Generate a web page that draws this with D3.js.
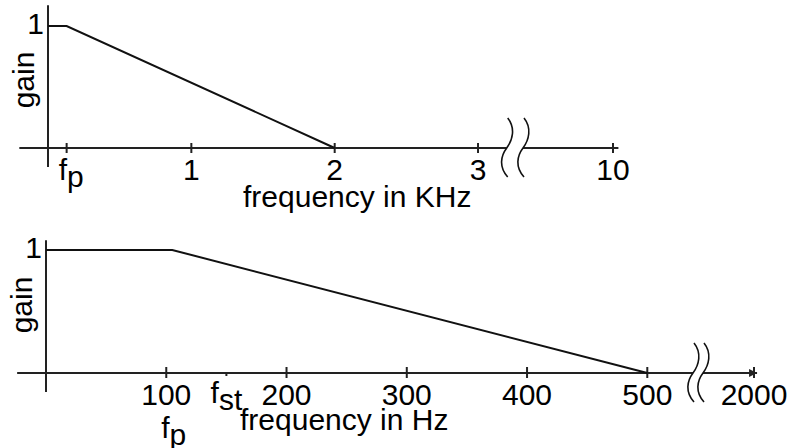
<!DOCTYPE html>
<html>
<head>
<meta charset="utf-8">
<script src="https://cdn.jsdelivr.net/npm/d3@7"></script>
<style>
  body { margin: 0; background: #fff; }
  text { font-family: "Liberation Sans", Arial, sans-serif; fill: #000; }
</style>
</head>
<body>
<div id="chart"></div>
<script>
// top panel, frequency in kHz
var topTicks = [0.13, 1, 2, 3, 10];
var topTickLabels = ["f_p", "1", "2", "3", "10"];
var topFreq = [0, 0.13, 2];
var topGain = [1, 1, 0];

// bottom panel, frequency in Hz
var bottomTicks = [100, 150, 200, 300, 400, 500, 2000];
var bottomTickLabels = ["100", "f_st", "200", "300", "400", "500", "2000"];
var bottomLowerTicks = [100];
var bottomLowerLabels = ["f_p"];
var bottomFreq = [0, 105, 500];
var bottomGain = [1, 1, 0];

var W = 790, H = 448;
var svg = d3.select("#chart").append("svg").attr("width", W).attr("height", H);
svg.append("rect").attr("width", W).attr("height", H).attr("fill", "#fff");

// writes "f_p" as f with subscript p
function setLabel(sel, s) {
  var parts = s.split("_");
  sel.text(parts[0]);
  if (parts.length > 1) sel.append("tspan").attr("dy", 7).text(parts[1]);
}

function breakMark(g, cx, cy) {
  g.append("path")
    .attr("d", "M" + (cx + 1) + "," + (cy - 30) +
      " C" + (cx + 9) + "," + (cy - 20) + " " + (cx + 6) + "," + (cy - 8) + " " + cx + "," + cy +
      " C" + (cx - 6) + "," + (cy + 8) + " " + (cx - 8) + "," + (cy + 19) + " " + (cx + 1) + "," + (cy + 29))
    .attr("fill", "none").attr("stroke", "#111").attr("stroke-width", 1.6);
}

function drawPanel(opt) {
  var g = svg.append("g");
  var x = opt.x, y = opt.y;
  var x0 = x(0), y0 = y(0);

  // y axis
  g.append("line").attr("x1", x0).attr("x2", x0)
    .attr("y1", y(opt.yTop)).attr("y2", y(opt.yBottom))
    .attr("stroke", "#222").attr("stroke-width", 2);

  // x axis in two pieces around the break
  g.append("line").attr("x1", x(opt.xStart)).attr("x2", x(opt.breakA))
    .attr("y1", y0).attr("y2", y0).attr("stroke", "#222").attr("stroke-width", 2);
  g.append("line").attr("x1", x(opt.breakB)).attr("x2", x(opt.xEnd))
    .attr("y1", y0).attr("y2", y0).attr("stroke", "#222").attr("stroke-width", 2);
  breakMark(g, x(opt.breakA), y0);
  breakMark(g, x(opt.breakB), y0);

  if (opt.arrow) {
    var xe = x(opt.xEnd);
    g.append("path").attr("d", "M" + xe + "," + y0 + " L" + (xe - 8) + "," + (y0 - 4) + " L" + (xe - 8) + "," + (y0 + 4) + "Z")
      .attr("fill", "#222");
  }

  // ticks
  g.selectAll(".tick").data(opt.ticks).enter().append("line")
    .attr("x1", function(d) { return x(d); })
    .attr("x2", function(d) { return x(d); })
    .attr("y1", function(d, i) { return opt.tickLabels[i] === "f_st" ? y0 : y0 - opt.tickUp; })
    .attr("y2", function(d, i) { return opt.tickLabels[i] === "f_st" ? y0 + 3 : y0 + 5; })
    .attr("stroke", "#222").attr("stroke-width", 2);

  g.selectAll(".tl").data(opt.ticks).enter().append("text")
    .attr("x", function(d, i) { return opt.tickLabels[i] === "f_p" ? x(d) - 8 : x(d); })
    .attr("y", function(d, i) { return opt.tickLabels[i] === "f_st" ? y0 + 30 : y0 + 32; })
    .attr("text-anchor", function(d, i) { return opt.tickLabels[i] === "f_p" ? "start" : "middle"; })
    .attr("font-size", 30)
    .each(function(d, i) { setLabel(d3.select(this), opt.tickLabels[i]); });

  if (opt.lowerTicks) {
    g.selectAll(".ll").data(opt.lowerTicks).enter().append("text")
      .attr("x", function(d) { return x(d) - 5; })
      .attr("y", y0 + 65)
      .attr("font-size", 30)
      .each(function(d, i) { setLabel(d3.select(this), opt.lowerLabels[i]); });
  }

  // y tick "1"
  g.append("text").attr("x", x0 - 4).attr("y", y(1) + 7.5)
    .attr("text-anchor", "end").attr("font-size", 30).text("1");

  // axis titles
  g.append("text").attr("transform", "translate(" + opt.gainX + "," + opt.gainY + ") rotate(-90)")
    .attr("text-anchor", "middle").attr("font-size", 30).text("gain");
  g.append("text").attr("x", opt.titleX).attr("y", y0 + opt.titleDy)
    .attr("text-anchor", "start").attr("font-size", 30).text(opt.title);

  // gain curve
  var line = d3.line().x(function(d) { return x(d[0]); }).y(function(d) { return y(d[1]); });
  g.append("path").datum(d3.zip(opt.freq, opt.gain))
    .attr("d", line).attr("fill", "none").attr("stroke", "#111").attr("stroke-width", 2);
}

var xTop = d3.scaleLinear().domain([0, 3.2, 9.5, 10]).range([48, 506.7, 523, 613]);
var yTop = d3.scaleLinear().domain([0, 1]).range([148, 26]);
drawPanel({
  x: xTop, y: yTop, yTop: 1.17, yBottom: -0.155,
  xStart: -0.2, xEnd: 10.03, breakA: 3.2, breakB: 9.5, tickUp: 5,
  ticks: topTicks, tickLabels: topTickLabels,
  freq: topFreq, gain: topGain,
  gainX: 34, gainY: 80, title: "frequency in KHz", titleX: 243, titleDy: 59
});

var xBot = d3.scaleLinear().domain([0, 538, 1950, 2000]).range([46, 693, 703, 754]);
var yBot = d3.scaleLinear().domain([0, 1]).range([373, 250]);
drawPanel({
  x: xBot, y: yBot, yTop: 1.08, yBottom: -0.155,
  xStart: -24, xEnd: 2003, breakA: 538, breakB: 1950, tickUp: 6, arrow: true,
  ticks: bottomTicks, tickLabels: bottomTickLabels,
  lowerTicks: bottomLowerTicks, lowerLabels: bottomLowerLabels,
  freq: bottomFreq, gain: bottomGain,
  gainX: 32, gainY: 305, title: "frequency in Hz", titleX: 240, titleDy: 57
});
</script>
</body>
</html>
